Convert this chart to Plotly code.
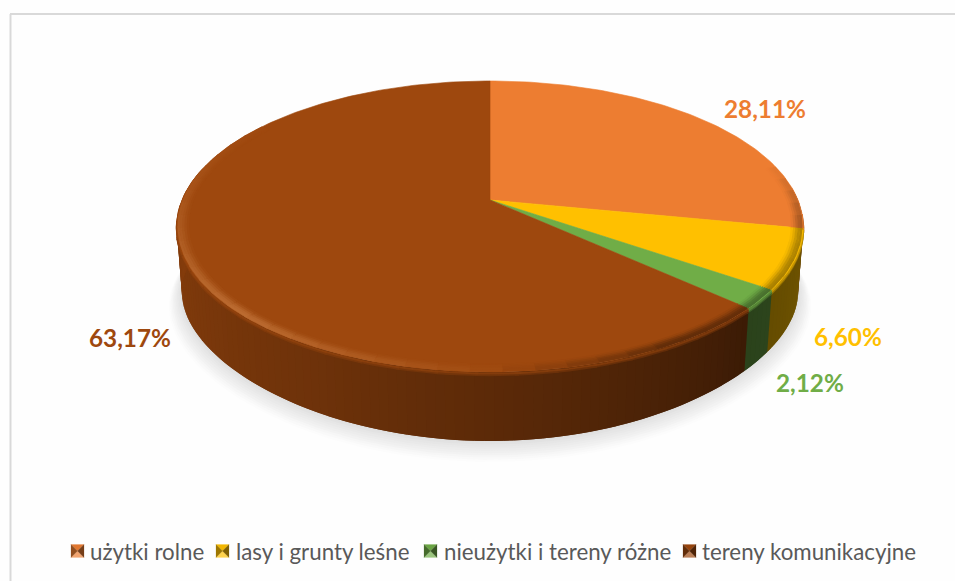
import numpy as np
import plotly.graph_objects as go

categories = ["użytki rolne", "lasy i grunty leśne", "nieużytki i tereny różne", "tereny komunikacyjne"]
values = [28.11, 6.60, 2.12, 63.17]
tick_labels = ["28,11%", "6,60%", "2,12%", "63,17%"]
colors = ["#ed7d31", "#ffc000", "#70ad47", "#9e480e"]

W, H = 955, 581
FONT = "Lato"
CX, APEX_Y = 490.0, 200.0
K, A, B = 0.182, 140.7, 308.0


def rgb(h):
    return np.array([int(h[i:i + 2], 16) for i in (1, 3, 5)], dtype=float)


def css(c):
    c = np.clip(np.round(c), 0, 255).astype(int)
    return f"rgb({c[0]},{c[1]},{c[2]})"


def top_pt(t, r=1.0):
    """Point of the perspective top disc; t = clockwise degrees from 12 o'clock."""
    a = np.radians(t)
    u, v = r * np.sin(a), r * np.cos(a)
    d = 1 + K * v
    return CX + B * u / d, APEX_Y - A * v / d


def bottom_pt(t, grow=0.0, dy=0.0):
    a = np.radians(t)
    u, v = np.sin(a), np.cos(a)
    w = -v
    x = CX + (303.0 + grow) * u / (1 + K * v)
    y = 268.4 + (120.8 + grow * 0.4) * w / (1 - 0.3 * w) + dy
    return x, y


def side_factor(t):
    return np.interp(t, [90, 133, 160, 180, 210, 240, 270], [0.46, 0.38, 0.50, 0.58, 0.70, 0.78, 0.84])


def poly(x, y, color, width=0.0):
    return go.Scatter(x=x, y=y, mode="lines", fill="toself", fillcolor=color,
                      line=dict(color=color, width=width), hoverinfo="skip", showlegend=False)


bounds = np.concatenate([[0], np.cumsum(values)]) * 3.6
traces = []

# soft ground shadow under the disc
for i, g in enumerate(np.linspace(16, 1, 10)):
    ts = np.linspace(60, 300, 160)
    px, py = bottom_pt(ts, grow=g * 0.8, dy=g * 0.85)
    shade = 252 - i * 3.2
    traces.append(poly(px, py, f"rgb({shade:.0f},{shade:.0f},{shade:.0f})"))

# side wall, shaded strip by strip; each strip overlaps the next so no seams show
for s, base in enumerate(colors):
    lo, hi = max(bounds[s], 85.0), min(bounds[s + 1], 282.0)
    if hi <= lo:
        continue
    edges = np.linspace(lo, hi, max(2, int((hi - lo) / 1.5) + 1))
    for t0, t1 in zip(edges[:-1], edges[1:]):
        ts = np.linspace(t0, t1 + 1.5, 3)
        xa, ya = top_pt(ts)
        xb, yb = bottom_pt(ts)
        traces.append(poly(np.r_[xa, xb[::-1]], np.r_[ya, yb[::-1]],
                           css(rgb(base) * side_factor((t0 + t1) / 2))))

# soft transition between the rim and the wall
for s, base in enumerate(colors):
    lo, hi = max(bounds[s], 95.0), min(bounds[s + 1], 280.0)
    if hi <= lo:
        continue
    edges = np.linspace(lo, hi, max(2, int((hi - lo) / 6) + 1))
    for t0, t1 in zip(edges[:-1], edges[1:]):
        tm = (t0 + t1) / 2
        side = rgb(base) * side_factor(tm)
        for dy, mix in [(3.2, 0.3), (1.6, 0.62)]:
            ts = np.linspace(t0, t1 + 0.6, 4)
            xa, ya = top_pt(ts)
            c = side + (rgb(base) - side) * mix
            traces.append(go.Scatter(x=xa, y=ya + dy, mode="lines", hoverinfo="skip", showlegend=False,
                                     line=dict(color=css(c), width=2.0)))

# top surface slices
for s, base in enumerate(colors):
    ts = np.linspace(bounds[s], bounds[s + 1], max(3, int(values[s] * 3.6)))
    xa, ya = top_pt(ts)
    traces.append(poly(np.r_[CX, xa, CX], np.r_[APEX_Y, ya, APEX_Y], base, 0.6))

# bevel along the rim: light on the left and front, dark on the right
radii = [0.966, 0.973, 0.980, 0.987, 0.994]
profile = [0.12, 0.35, 0.65, 0.9, 1.0]
for s, base in enumerate(colors):
    c0 = rgb(base)
    lo, hi = bounds[s], bounds[s + 1]
    edges = np.linspace(lo, hi, max(2, int((hi - lo) / 5) + 1))
    for t0, t1 in zip(edges[:-1], edges[1:]):
        tm = (t0 + t1) / 2
        hl = np.interp(tm, [75, 100, 150, 180, 225, 262, 290, 310],
                       [0.0, -0.3, -0.38, 0.02, 0.30, 0.14, 0.04, 0.0])
        if abs(hl) < 0.015:
            continue
        for r, p in zip(radii, profile):
            amt = hl * p
            c = c0 + (np.array([255, 190, 130.0]) - c0) * amt if amt > 0 else c0 * (1 + amt)
            ts = np.linspace(t0, t1 + 0.6, 4)
            xa, ya = top_pt(ts, r)
            traces.append(go.Scatter(x=xa, y=ya, mode="lines", hoverinfo="skip", showlegend=False,
                                     line=dict(color=css(c), width=2.6)))

# pyramid-shaded legend keys
key_x = [71, 216, 424, 683]
text_x = [88, 234, 442, 700]
KEY_Y, KEY_H = 551, 6.5
for kx, base in zip(key_x, colors):
    c0 = rgb(base)
    L, R, T, Bt = kx, kx + 13, KEY_Y - KEY_H, KEY_Y + KEY_H
    mx, my = kx + 6.5, KEY_Y
    faces = [([L, R, mx], [T, T, my], c0 * 0.95),
             ([L, R, mx], [Bt, Bt, my], c0 + (255 - c0) * 0.3),
             ([L, L, mx], [T, Bt, my], c0 * 0.62),
             ([R, R, mx], [T, Bt, my], c0 * 0.5)]
    for fx, fy, fc in faces:
        traces.append(poly(fx + fx[:1], fy + fy[:1], css(fc), 0.2))

fig = go.Figure(traces)

# percentage labels
label_pos = [(765, 108.5), (848, 336.5), (810, 382.5), (130, 337.5)]
annotations = [dict(x=x, y=y, text=f"<b>{t}</b>", xref="x", yref="y", showarrow=False,
                    xanchor="center", yanchor="middle",
                    font=dict(family=FONT, size=24.3, color=c))
               for (x, y), t, c in zip(label_pos, tick_labels, colors)]
annotations += [dict(x=x, y=KEY_Y, text=t, xref="x", yref="y", showarrow=False,
                     xanchor="left", yanchor="middle",
                     font=dict(family=FONT, size=22.3, color="#595959"))
                for x, t in zip(text_x, categories)]

# chart-area frame (left and top edges)
frame = [dict(type="line", xref="x", yref="y", x0=10.5, x1=10.5, y0=14, y1=H,
              line=dict(color="#d9d9d9", width=2)),
         dict(type="line", xref="x", yref="y", x0=10, x1=W, y0=14, y1=14,
              line=dict(color="#d9d9d9", width=2))]

fig.update_layout(
    width=W, height=H, margin=dict(l=0, r=0, t=0, b=0), showlegend=False,
    paper_bgcolor="#fefefe", plot_bgcolor="#fefefe",
    xaxis=dict(range=[0, W], visible=False, fixedrange=True),
    yaxis=dict(range=[H, 0], visible=False, fixedrange=True),
    annotations=annotations, shapes=frame,
)
fig.write_html("out.html", post_script="document.body.style.margin='0';document.body.style.overflow='hidden';",
               config={"displayModeBar": False})
